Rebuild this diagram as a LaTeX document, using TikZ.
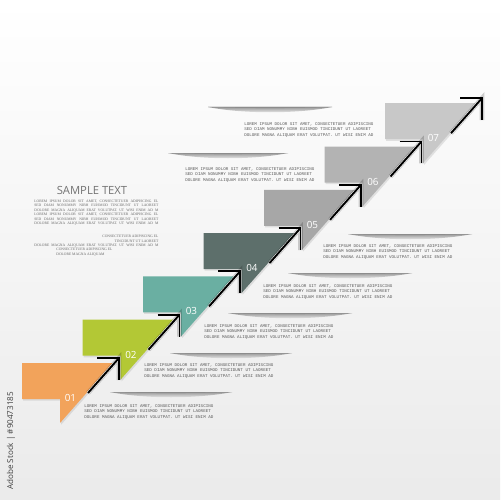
\documentclass[tikz,border=0pt]{standalone}
\usepackage{fontspec}
\setmainfont{Liberation Serif}
\setsansfont{Open Sans}
\setmonofont{Liberation Mono}
\usepackage{xcolor}
\usepackage{tikz}
\usetikzlibrary{shadows}

\definecolor{stepone}{HTML}{F2A35B}
\definecolor{steptwo}{HTML}{B3C835}
\definecolor{stepthree}{HTML}{6AAFA2}
\definecolor{stepfour}{HTML}{5D6F6B}
\definecolor{stepfive}{HTML}{A7A7A7}
\definecolor{stepsix}{HTML}{B3B3B3}
\definecolor{stepseven}{HTML}{C8C8C8}

\newcommand\monotext{\ttfamily\fontsize{2.4}{3}\selectfont}
\newcommand\serifcaps{\rmfamily\fontsize{2.1}{2.53}\selectfont}
\newcommand\loremblock{LOREM IPSUM DOLOR SIT AMET, CONSECTETUER ADIPISCING\\
SED DIAM NONUMMY NIBH EUISMOD TINCIDUNT UT LAOREET\\
DOLORE MAGNA ALIQUAM ERAT VOLUTPAT. UT WISI ENIM AD}
\newcommand\jline[1]{\makebox[2.48cm][s]{#1}}

\begin{document}
\begin{tikzpicture}[x=0.02cm,y=-0.02cm,
        shelf/.style={top color=black!40, bottom color=white},
        blocktext/.style={anchor=north west, inner sep=0pt, align=left, text=black!65, font=\monotext},
        leftblock/.style={anchor=north west, inner sep=0pt, align=left, text=black!60, font=\serifcaps},
        steplabel/.style={anchor=west, inner sep=0pt, text=white, font=\sffamily\fontsize{5.6}{6}\selectfont},
        arrowline/.style={line width=1.1pt, black, line join=miter},
        arrowshade/.style={line width=2.6pt, black, opacity=0.18},
        ]
    \useasboundingbox (0,0) rectangle (500,500);
    \shade[top color=white, bottom color=black!8] (0,0) rectangle (500,500);

    % shelves over the text blocks
    \foreach \xa/\xb/\ys in {208/332/107, 168/288/153, 348/472/234, 288/412/273, 228/352/313, 170/292/353, 110/232/392} {
        \shade[shelf] (\xa,\ys) .. controls (\xa+35,\ys+7) and (\xb-35,\ys+7) .. (\xb,\ys) -- cycle;
        \fill[black!45] (\xa,\ys) .. controls (\xa+35,\ys+1.4) and (\xb-35,\ys+1.4) .. (\xb,\ys) -- cycle;
    }

    % text blocks
    \node[blocktext] (blockA) at (244,122.5) {\loremblock};
    \node[blocktext] (blockB) at (185,167.5) {\loremblock};
    \node[blocktext] (blockC) at (323,244.5) {\loremblock};
    \node[blocktext] (blockD) at (263,284.5) {\loremblock};
    \node[blocktext] (blockE) at (204,324.5) {\loremblock};
    \node[blocktext] (blockF) at (144,363.5) {\loremblock};
    \node[blocktext] (blockG) at (84,404.5) {\loremblock};

    % sample text on the left
    \node[anchor=base, inner sep=0pt, text=black!55, font=\sffamily\fontsize{6.4}{7}\selectfont] (title) at (92,194) {SAMPLE TEXT};
    \node[leftblock] (loremA) at (34,199.5) {%
        \jline{LOREM IPSUM DOLOR SIT AMET, CONSECTETUER ADIPISCING EL}\\
        \jline{SED DIAM NONUMMY NIBH EUISMOD TINCIDUNT UT LAOREET}\\
        \jline{DOLORE MAGNA ALIQUAM ERAT VOLUTPAT. UT WISI ENIM AD M}\\
        \jline{LOREM IPSUM DOLOR SIT AMET, CONSECTETUER ADIPISCING EL}\\
        \jline{SED DIAM NONUMMY NIBH EUISMOD TINCIDUNT UT LAOREET}\\
        \jline{DOLORE MAGNA ALIQUAM ERAT VOLUTPAT. UT WISI ENIM AD M}};
    \node[leftblock] (loremB) at (34,234.8) {%
        \makebox[2.48cm][r]{CONSECTETUER ADIPISCING EL}\\
        \makebox[2.48cm][r]{TINCIDUNT UT LAOREET}\\
        \jline{DOLORE MAGNA ALIQUAM ERAT VOLUTPAT. UT WISI ENIM AD M}\\
        \hspace*{0.44cm}CONSECTETUER ADIPISCING EL\\
        \hspace*{0.44cm}DOLORE MAGNA ALIQUAM};

    \node[rotate=90, anchor=west, inner sep=0pt, text=black!75, font=\sffamily\fontsize{4.6}{5}\selectfont] (stockid) at (11,490) {Adobe Stock | \#90473185};

    % the steps
    \foreach \k/\col in {1/stepone, 2/steptwo, 3/stepthree, 4/stepfour, 5/stepfive, 6/stepsix, 7/stepseven} {
        \pgfmathsetmacro\xo{22+60.5*(\k-1)}
        \pgfmathsetmacro\yo{363-43.3*(\k-1)}
        \fill[\col, drop shadow={opacity=0.2, shadow xshift=0.7pt, shadow yshift=-0.9pt}]
            (\xo,\yo) -- (\xo+91,\yo) -- (\xo+38,\yo+60) -- (\xo+38,\yo+36) -- (\xo,\yo+36) -- cycle;
        \node[steplabel] (num\k) at (\xo+42.5,\yo+35) {0\k};
        \coordinate (tip\k) at (\xo+97,\yo-5);
        \coordinate (foot\k) at (\xo+66,\yo+30);
    }

    % arrows
    \foreach \k in {1,...,7} {
        \draw[arrowshade, xshift=0.06cm, yshift=-0.03cm] (foot\k) -- (tip\k) -- ([yshift=-0.44cm]tip\k);
        \draw[white, line width=1.6pt, xshift=-0.02cm] (foot\k) -- (tip\k);
        \draw[arrowline] (foot\k) -- (tip\k);
        \draw[arrowline] ([xshift=-0.44cm]tip\k) -- (tip\k) -- ([yshift=-0.44cm]tip\k);
    }
\end{tikzpicture}
\end{document}
